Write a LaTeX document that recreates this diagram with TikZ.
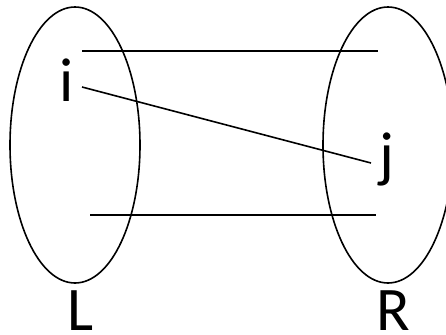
\documentclass[tikz,border=0pt]{standalone}
\usepackage{fontspec}
\setmainfont{Carlito}
\usetikzlibrary{shapes.geometric}
\begin{document}
\begin{tikzpicture}[x=1pt,y=-1pt,line width=1.6pt,
  lbl/.style={font=\fontsize{62}{62}\selectfont,inner sep=0pt,anchor=base},
  setshape/.style={draw,ellipse,minimum width=130pt,minimum height=276pt,inner sep=0pt}]
\useasboundingbox (0,0) rectangle (446,334);
\clip (0,0) rectangle (446,334);
\node[setshape] (Lset) at (75,145) {};
\node[setshape] (Rset) at (388,145) {};
\node[lbl] (i) at (67,102) {i};
\node[lbl] (j) at (387,175) {j};
\node[lbl] (L) at (81,330) {L};
\node[lbl] (R) at (393,330) {R};
\coordinate (t1) at (82,51);
\coordinate (t2) at (378,51);
\coordinate (b1) at (90,215);
\coordinate (b2) at (376,215);
\coordinate (d1) at (82,87);
\coordinate (d2) at (371,163);
\draw (t1) -- (t2);
\draw (b1) -- (b2);
\draw (d1) -- (d2);
\end{tikzpicture}
\end{document}
